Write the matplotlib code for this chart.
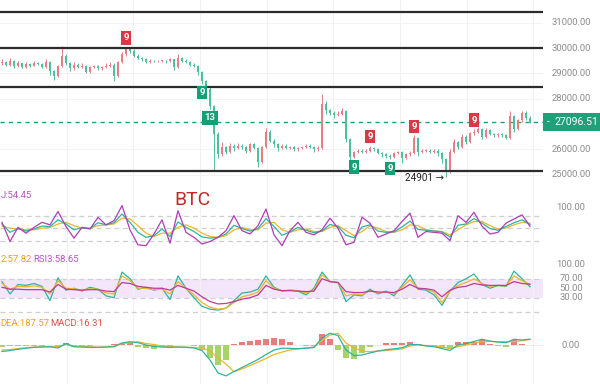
import numpy as np
import matplotlib
matplotlib.use('Agg')
import matplotlib.pyplot as plt
from matplotlib.patches import Rectangle

# ---- price candles (one candle every 4 px) ----
close = [29450, 29350, 29500, 29300, 29400, 29250, 29380, 29300, 29420, 29380,
         29250, 29450, 29100, 28900, 29300, 29700, 29400, 29200, 29350, 29250,
         29300, 29050, 29250, 29300, 29200, 29250, 29300, 29350, 28900, 29450,
         29750, 29950, 29900, 29700, 29600, 29550, 29450, 29500, 29480, 29500,
         29500, 29480, 29550, 29250, 29600, 29500, 29450, 29350, 29300, 29050,
         28700, 28400, 27700, 26600, 25800, 26100, 25900, 26150, 26050, 26150,
         26100, 25950, 26200, 26050, 25500, 26100, 26700, 26350, 26200, 26050,
         26150, 26050, 26100, 26000, 26050, 26100, 26150, 26100, 26000, 26050,
         27800, 27550, 27450, 27350, 27400, 27500, 26400, 25700, 25900, 25950,
         25900, 25950, 26050, 26000, 25850, 25800, 25750, 25700, 25850, 25900,
         25650, 25800, 25850, 26450, 25900, 25950, 25950, 25900, 25950, 25850,
         25600, 25100, 25900, 26300, 26100, 26500, 26300, 26650, 26700, 26800,
         26500, 26750, 26600, 26550, 26600, 26550, 26450, 27300, 26800, 27150,
         27450, 27250, 27096.51]
high = [29550, 29500, 29600, 29520, 29480, 29420, 29450, 29400, 29500, 29450,
        29400, 29550, 29480, 29150, 29350, 30100, 29750, 29450, 29450, 29400,
        29400, 29350, 29300, 29350, 29350, 29300, 29400, 29450, 29400, 29500,
        29850, 30050, 30050, 29950, 29750, 29650, 29600, 29550, 29530, 29530,
        29540, 29530, 29620, 29580, 29760, 29650, 29550, 29480, 29400, 29320,
        29100, 28750, 28450, 27750, 26700, 26300, 26150, 26250, 26200, 26250,
        26200, 26150, 26250, 26250, 26100, 26150, 26850, 26750, 26400, 26250,
        26200, 26200, 26150, 26150, 26100, 26150, 26200, 26200, 26150, 26150,
        28200, 27900, 27600, 27500, 27500, 27650, 27550, 26450, 25950, 26000,
        26000, 26000, 26150, 26100, 26050, 25900, 25850, 25800, 25900, 25950,
        25950, 25850, 25950, 26550, 26500, 26000, 26000, 26000, 26000, 26000,
        25900, 25650, 26000, 26400, 26350, 26600, 26550, 26700, 26800, 26900,
        26850, 26850, 26800, 26650, 26650, 26650, 26600, 27500, 27350, 27200,
        27520, 27500, 27300]
low = [29350, 29300, 29300, 29200, 29250, 29200, 29220, 29250, 29280, 29330,
       29200, 29200, 28950, 28750, 28850, 29250, 29350, 29100, 29150, 29200,
       29200, 29000, 29000, 29200, 29150, 29150, 29200, 29250, 28700, 28850,
       29400, 29700, 29800, 29650, 29550, 29500, 29400, 29420, 29450, 29450,
       29460, 29430, 29450, 29150, 29200, 29450, 29400, 29300, 29250, 28950,
       28600, 28300, 27600, 25150, 25650, 25750, 25800, 25850, 25950, 26000,
       26000, 25850, 25900, 26000, 25300, 25450, 26050, 26300, 26100, 25950,
       26000, 26000, 26000, 25950, 25950, 26000, 26050, 26050, 25900, 25950,
       26000, 27400, 27350, 27250, 27300, 27350, 26300, 25550, 25650, 25850,
       25850, 25850, 25900, 25950, 25800, 25700, 25650, 25600, 25650, 25800,
       25450, 25600, 25750, 25800, 25750, 25850, 25900, 25850, 25850, 25750,
       25450, 24901, 25050, 25850, 26000, 26050, 26200, 26250, 26550, 26650,
       26400, 26450, 26550, 26500, 26500, 26500, 26400, 26400, 26700, 26750,
       27100, 27150, 27050]
first_open = 29400
last_price = 27096.51
low_label = 24901
levels = [31430, 30000, 28480, 25150]
red_marks = [(31, '9'), (92, '9'), (103, '9'), (118, '9')]
green_marks = [(50, '9'), (88, '9'), (97, '9'), (52, '13')]
price_ticks = [32000, 31000, 30000, 29000, 28000, 26000, 25000]

# ---- indicators (one value every 2 candles) ----
kdj_j = [64, 18, 52, 38, 52, 64, 58, 90, 54, 26, 52, 48, 76, 58, 68, 104, 46, 10, 8, 36,
         70, 14, 92, 40, 28, 12, 18, 28, 44, 80, 44, 36, 56, 96, 34, 8, 44, 64, 40, 34,
         46, 74, 50, 10, 16, 76, 62, 28, 36, 44, 66, 86, 28, 42, 40, 38, 20, 80, 64, 88,
         55, 36, 40, 62, 72, 82, 54.45]
kdj_k = [60, 40, 49, 43, 48, 55, 54, 70, 60, 46, 51, 49, 63, 58, 63, 84, 64, 40, 28, 32,
         48, 30, 65, 52, 42, 29, 26, 28, 36, 57, 49, 43, 49, 73, 54, 33, 41, 52, 45, 39,
         43, 59, 54, 33, 27, 53, 58, 43, 40, 41, 53, 67, 47, 45, 43, 41, 29, 57, 60, 73,
         62, 49, 45, 54, 63, 70, 59]
kdj_d = [55, 50, 48, 46, 46, 50, 52, 60, 64, 56, 50, 50, 56, 58, 60, 74, 72, 56, 38, 30,
         38, 38, 52, 58, 50, 38, 30, 28, 32, 46, 52, 46, 46, 62, 64, 46, 40, 46, 48, 42,
         42, 52, 56, 44, 32, 42, 56, 50, 42, 40, 46, 58, 56, 46, 44, 42, 34, 46, 58, 66,
         66, 56, 48, 50, 58, 64, 62]
rsi1 = [64, 38, 58, 56, 60, 54, 24, 72, 46, 50, 44, 52, 48, 34, 30, 84, 70, 48, 52, 46,
        50, 26, 76, 50, 30, 12, 6, 4, 8, 24, 40, 42, 48, 76, 52, 44, 46, 44, 36, 50,
        84, 64, 62, 22, 36, 34, 48, 38, 44, 34, 56, 78, 48, 46, 36, 14, 44, 62, 70, 80,
        58, 50, 56, 54, 86, 70, 53]
rsi2 = [60, 48, 54, 53, 55, 52, 38, 66, 50, 49, 46, 49, 48, 40, 38, 76, 66, 50, 50, 47,
        48, 38, 64, 50, 36, 20, 10, 6, 8, 20, 32, 36, 42, 66, 50, 45, 46, 45, 40, 46,
        78, 64, 62, 34, 38, 36, 45, 40, 42, 38, 52, 68, 50, 48, 42, 20, 44, 56, 62, 70,
        60, 54, 56, 55, 76, 66, 57.82]
rsi3 = [52, 48, 48, 47, 47, 47, 42, 58, 48, 47, 46, 47, 47, 44, 43, 62, 60, 54, 52, 50,
        50, 46, 56, 50, 44, 32, 22, 17, 18, 22, 27, 30, 36, 56, 48, 45, 45, 44, 43, 44,
        70, 64, 62, 43, 41, 41, 44, 42, 42, 41, 48, 58, 50, 49, 46, 32, 46, 52, 54, 60,
        57, 56, 56, 56, 64, 60, 58.65]
dif = [-220, -190, -145, -110, -80, -70, -60, -100, 50, -60, -70, -80, -80, -70, -50,
       70, 110, 80, 0, -50, -70, -80, -70, -80, -100, -190, -510, -950, -1050, -900,
       -765, -630, -490, -325, -170, -110, -115, -125, -110, -85, 240, 400, 320, -170,
       -360, -340, -270, -205, -160, -130, -95, 17, 17, -34, -58, -120, -185, 0, 50,
       120, 195, 135, 100, 80, 195, 170, 195.7]
dea = [-170, -155, -120, -95, -70, -60, -58, -62, 17, -34, -48, -60, -75, -68, -62,
       50, 80, 112, 50, 17, -34, -50, -68, -75, -85, -100, -205, -440, -645, -910,
       -815, -700, -580, -460, -325, -240, -170, -130, -100, -68, 153, 340, 400, 68,
       -100, -205, -228, -205, -187, -160, -136, -34, 0, -17, -34, -68, -112, -58, 0,
       68, 112, 120, 112, 112, 112, 146, 187.57]
macd_hist = [-60, -50, -40, -30, -20, -20, -4, -76, 66, -52, -44, -40, -10, -4, 24,
             40, 60, -64, -100, -134, -72, -60, -4, -10, -30, -180, -450, -680, -500, 20,
             100, 140, 180, 220, 230, 200, 110, 10, -20, -34, 380, 200, -160, -440,
             -470, -270, -84, 0, 54, 60, 82, 102, 34, -34, -48, -104, -146, 116, 100,
             104, 166, 30, -24, -64, 166, 48, 16.31]

W, H = 600, 384
UP, DOWN = '#e47f86', '#4fbf9f'
TEAL, YELLOW, MAGENTA = '#2bb5a0', '#f0b52a', '#b13cb5'
LABEL_GREY = '#8c8c8c'
FONT = ['Roboto', 'DejaVu Sans']

x_min, x_max = -0.5, 135.25          # 4 px per candle, axes 543 px wide
grid_x = (np.arange(1, 9) * 66.67 - 2) / 4


def fx(px):
    return px / W


def fy(py):
    return 1 - py / H


def add_panel(fig, top, bottom, ylim):
    ax = fig.add_axes([0, 1 - bottom / H, 543 / W, (bottom - top) / H])
    ax.set_facecolor('none')
    for s in ax.spines.values():
        s.set_visible(False)
    ax.tick_params(left=False, bottom=False, labelleft=False, labelbottom=False)
    ax.set_xlim(x_min, x_max)
    ax.set_ylim(*ylim)
    ax.set_xticks(grid_x)
    ax.set_yticks([])
    ax.grid(axis='x', color='#f1f1f1', lw=0.8)
    ax.set_axisbelow(True)
    return ax


def right_label(ax, y, s):
    ax.text(571 / 543, y, s, transform=ax.get_yaxis_transform(), ha='center',
            va='center', fontsize=6.8, color=LABEL_GREY, family=FONT, clip_on=False)


plt.rcParams['font.family'] = FONT
fig = plt.figure(figsize=(W / 100, H / 100), dpi=100)

# ---------------- price panel ----------------
ax = add_panel(fig, 0, 180, (24790, 31900))
for t in price_ticks[1:]:
    ax.axhline(t, color='#f3f3f3', lw=0.8, zorder=0)

c = np.array(close, dtype=float)
o = np.r_[first_open, c[:-1]]
hi = np.array(high, dtype=float)
lo = np.array(low, dtype=float)
idx = np.arange(len(c))
colors = np.where(c >= o, UP, DOWN)
ax.vlines(idx, lo, hi, colors=colors, lw=0.7, zorder=3)
body = np.maximum(np.abs(c - o), 25)
ax.bar(idx, body, bottom=np.minimum(o, c), width=0.65, color=colors, lw=0, zorder=4)

for lv in levels:
    ax.axhline(lv, color='#2b2b2b', lw=1.6, zorder=5)
ax.axhline(last_price, color='#1e9e74', lw=1.0, ls=(0, (3, 3)), zorder=2)

for i, lab in red_marks:
    ax.annotate(lab, xy=(i, hi[i]), xytext=(0, 6.5), textcoords='offset points',
                ha='center', va='center', color='white', fontsize=6.8,
                fontweight='bold', zorder=6,
                bbox=dict(boxstyle='square,pad=0.24', fc='#d63a45', ec='none'))
for i, lab in green_marks:
    ax.annotate(lab, xy=(i, lo[i]), xytext=(0, -6.5), textcoords='offset points',
                ha='center', va='center', color='white', fontsize=6.8,
                fontweight='bold', zorder=6,
                bbox=dict(boxstyle='square,pad=0.24', fc='#159f77', ec='none'))

low_i = int(np.argmin(lo))
ax.annotate(f'{low_label} \u2192', xy=(low_i, low_label), xytext=(-1.5, -0.5),
            textcoords='offset points', ha='right', va='center', fontsize=7.2,
            color='#222222', annotation_clip=False, zorder=6)

for t in price_ticks:
    right_label(ax, t, f'{t:.2f}')

# current price box
fig.patches.append(Rectangle((fx(543), fy(131)), fx(57), 18 / H,
                             transform=fig.transFigure, fc='#1fa078', ec='none'))
fig.text(fx(548), fy(122), '-', color='white', fontsize=7, ha='center', va='center')
fig.text(fx(576), fy(122), f'{last_price:.2f}', color='white', fontsize=7.6,
         ha='center', va='center')

ind_x = np.arange(len(kdj_j)) * 2

# ---------------- KDJ panel ----------------
ax2 = add_panel(fig, 180, 250, (-2.4, 165.6))
for lv in [20, 50, 80]:
    ax2.axhline(lv, color='#cfcfcf', lw=0.9, ls=(0, (4, 3)), zorder=1)
ax2.plot(ind_x, kdj_d, color=YELLOW, lw=0.9, zorder=3)
ax2.plot(ind_x, kdj_k, color=TEAL, lw=0.9, zorder=4)
ax2.plot(ind_x, kdj_j, color=MAGENTA, lw=0.9, zorder=5)
right_label(ax2, 100, '100.00')
fig.text(fx(0.5), fy(196), f'J:{kdj_j[-1]:.2f}', color='#b454c0', fontsize=6.8,
         ha='left', va='center')
fig.text(fx(192), fy(200), 'BTC', color='#c62828', fontsize=14, ha='center',
         va='center')

# ---------------- RSI panel ----------------
ax3 = add_panel(fig, 250, 316, (-8.4, 130.5))
ax3.axhspan(30, 70, color='#f3e6fa', lw=0, zorder=0)
for lv in [0, 30, 70]:
    ax3.axhline(lv, color='#cfcfcf', lw=0.9, ls=(0, (4, 3)), zorder=1)
ax3.plot(ind_x, rsi1, color=TEAL, lw=0.9, zorder=3)
ax3.plot(ind_x, rsi2, color=YELLOW, lw=0.9, zorder=4)
ax3.plot(ind_x, rsi3, color='#c0389a', lw=0.9, zorder=5)
for t in [100, 70, 50, 30]:
    right_label(ax3, t, f'{t:.2f}')
fig.text(fx(0.5), fy(260), f'2:{rsi2[-1]:.2f}', color='#e0a21c', fontsize=6.8,
         ha='left', va='center')
fig.text(fx(33), fy(260), f'RSI3:{rsi3[-1]:.2f}', color='#b454c0', fontsize=6.8,
         ha='left', va='center')

# ---------------- MACD panel ----------------
ax4 = add_panel(fig, 316, 384, (-1326, 986))
hist = np.array(macd_hist, dtype=float)
ax4.axhline(0, color='#f0e0e0', lw=0.6, zorder=1)
ax4.bar(ind_x, hist, width=1.5, color=np.where(hist >= 0, '#ea7d7b', '#a6d468'),
        lw=0, zorder=2)
ax4.plot(ind_x, dea, color=YELLOW, lw=0.9, zorder=3)
ax4.plot(ind_x, dif, color=TEAL, lw=0.9, zorder=4)
right_label(ax4, 0, '0.00')
fig.text(fx(0.5), fy(324), f'DEA:{dea[-1]:.2f}', color='#e8a317', fontsize=6.8,
         ha='left', va='center')
fig.text(fx(50), fy(324), f'MACD:{macd_hist[-1]:.2f}', color='#d9534f',
         fontsize=6.8, ha='left', va='center')

fig.savefig('out.png', dpi=100)
